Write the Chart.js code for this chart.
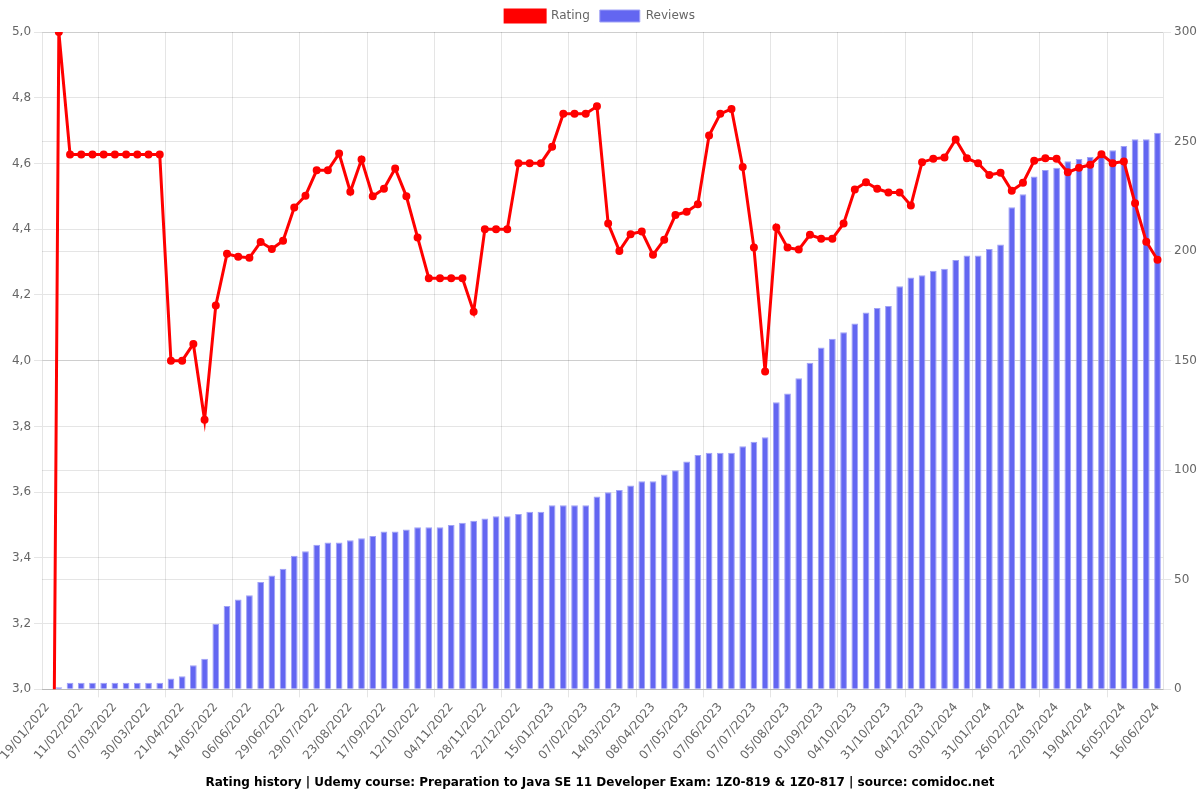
<!DOCTYPE html>
<html>
<head>
<meta charset="utf-8">
<script src="https://cdn.jsdelivr.net/npm/chart.js@4"></script>
<style>
  html, body { margin: 0; padding: 0; background: #fff; }
  #wrap { width: 1200px; height: 800px; }
</style>
</head>
<body>
<div id="wrap"><canvas id="myChart" width="1200" height="800"></canvas></div>
<script>
const dates = [
    "19/01/2022", "27/01/2022", "03/02/2022", "11/02/2022", "19/02/2022", "27/02/2022",
    "07/03/2022", "15/03/2022", "22/03/2022", "30/03/2022", "06/04/2022", "14/04/2022",
    "21/04/2022", "29/04/2022", "06/05/2022", "14/05/2022", "22/05/2022", "29/05/2022",
    "06/06/2022", "14/06/2022", "21/06/2022", "29/06/2022", "09/07/2022", "19/07/2022",
    "29/07/2022", "06/08/2022", "14/08/2022", "23/08/2022", "31/08/2022", "08/09/2022",
    "17/09/2022", "25/09/2022", "03/10/2022", "12/10/2022", "20/10/2022", "27/10/2022",
    "04/11/2022", "12/11/2022", "20/11/2022", "28/11/2022", "06/12/2022", "14/12/2022",
    "22/12/2022", "30/12/2022", "07/01/2023", "15/01/2023", "23/01/2023", "30/01/2023",
    "07/02/2023", "19/02/2023", "02/03/2023", "14/03/2023", "22/03/2023", "31/03/2023",
    "08/04/2023", "18/04/2023", "27/04/2023", "07/05/2023", "17/05/2023", "27/05/2023",
    "07/06/2023", "17/06/2023", "27/06/2023", "07/07/2023", "17/07/2023", "26/07/2023",
    "05/08/2023", "14/08/2023", "23/08/2023", "01/09/2023", "12/09/2023", "23/09/2023",
    "04/10/2023", "13/10/2023", "22/10/2023", "31/10/2023", "12/11/2023", "23/11/2023",
    "04/12/2023", "14/12/2023", "24/12/2023", "03/01/2024", "12/01/2024", "22/01/2024",
    "31/01/2024", "09/02/2024", "17/02/2024", "26/02/2024", "04/03/2024", "13/03/2024",
    "22/03/2024", "31/03/2024", "10/04/2024", "19/04/2024", "28/04/2024", "07/05/2024",
    "16/05/2024", "26/05/2024", "05/06/2024", "16/06/2024"
];

const rating = [
    0, 5.0, 4.627, 4.627, 4.627, 4.627, 4.627, 4.627, 4.627, 4.627,
    4.627, 4.0, 4.0, 4.051, 3.82, 4.168, 4.325, 4.316, 4.313, 4.361,
    4.34, 4.365, 4.466, 4.502, 4.579, 4.579, 4.63, 4.514, 4.612, 4.5,
    4.523, 4.585, 4.5, 4.375, 4.251, 4.251, 4.251, 4.251, 4.149, 4.4,
    4.4, 4.4, 4.601, 4.601, 4.601, 4.651, 4.751, 4.751, 4.751, 4.774,
    4.417, 4.334, 4.385, 4.393, 4.322, 4.368, 4.443, 4.453, 4.476, 4.685,
    4.751, 4.766, 4.589, 4.344, 3.967, 4.405, 4.344, 4.338, 4.383, 4.371,
    4.371, 4.417, 4.521, 4.543, 4.523, 4.512, 4.512, 4.472, 4.604, 4.614,
    4.618, 4.673, 4.616, 4.601, 4.565, 4.572, 4.517, 4.541, 4.608, 4.616,
    4.614, 4.573, 4.587, 4.596, 4.628, 4.601, 4.606, 4.479, 4.362, 4.307
];

const reviews = [
    0, 1, 3, 3, 3, 3, 3, 3, 3, 3,
    3, 5, 6, 11, 14, 30, 38, 41, 43, 49,
    52, 55, 61, 63, 66, 67, 67, 68, 69, 70,
    72, 72, 73, 74, 74, 74, 75, 76, 77, 78,
    79, 79, 80, 81, 81, 84, 84, 84, 84, 88,
    90, 91, 93, 95, 95, 98, 100, 104, 107, 108,
    108, 108, 111, 113, 115, 131, 135, 142, 149, 156,
    160, 163, 167, 172, 174, 175, 184, 188, 189, 191,
    192, 196, 198, 198, 201, 203, 220, 226, 234, 237,
    238, 241, 242, 243, 245, 246, 248, 251, 251, 254
];

const titleText = "Rating history | Udemy course: Preparation to Java SE 11 Developer Exam: 1Z0-819 & 1Z0-817 | source: comidoc.net";

Chart.defaults.font.family = "'DejaVu Sans', sans-serif";
Chart.defaults.font.size = 12;
Chart.defaults.color = "#666";

const ctx = document.getElementById("myChart");

new Chart(ctx, {
    type: "bar",
    data: {
        labels: dates,
        datasets: [
            {
                type: "line",
                label: "Rating",
                data: rating,
                yAxisID: "y",
                borderColor: "rgb(255, 0, 0)",
                backgroundColor: "rgb(255, 0, 0)",
                borderWidth: 3,
                pointRadius: 2.5,
                pointBackgroundColor: "rgb(255, 0, 0)",
                tension: 0,
            },
            {
                label: "Reviews",
                data: reviews,
                yAxisID: "y1",
                backgroundColor: "rgb(99, 102, 241)",
                borderColor: "rgba(160, 162, 246, 1)",
                borderWidth: 1,
                barPercentage: 0.75,
                categoryPercentage: 0.8,
            },
        ],
    },
    options: {
        responsive: false,
        animation: false,
        locale: "de-DE",
        plugins: {
            legend: {
                position: "top",
            },
            title: {
                display: true,
                text: titleText,
                position: "bottom",
                color: "#000",
                font: { size: 12, weight: "bold" },
            },
        },
        scales: {
            x: {
                ticks: {
                    minRotation: 50,
                    maxRotation: 50,
                    maxTicksLimit: 34,
                },
            },
            y: {
                position: "left",
                min: 3,
                max: 5,
                ticks: { stepSize: 0.2 },
            },
            y1: {
                position: "right",
                beginAtZero: true,
                max: 300,
                ticks: { stepSize: 50 },
            },
        },
    },
});
</script>
</body>
</html>
